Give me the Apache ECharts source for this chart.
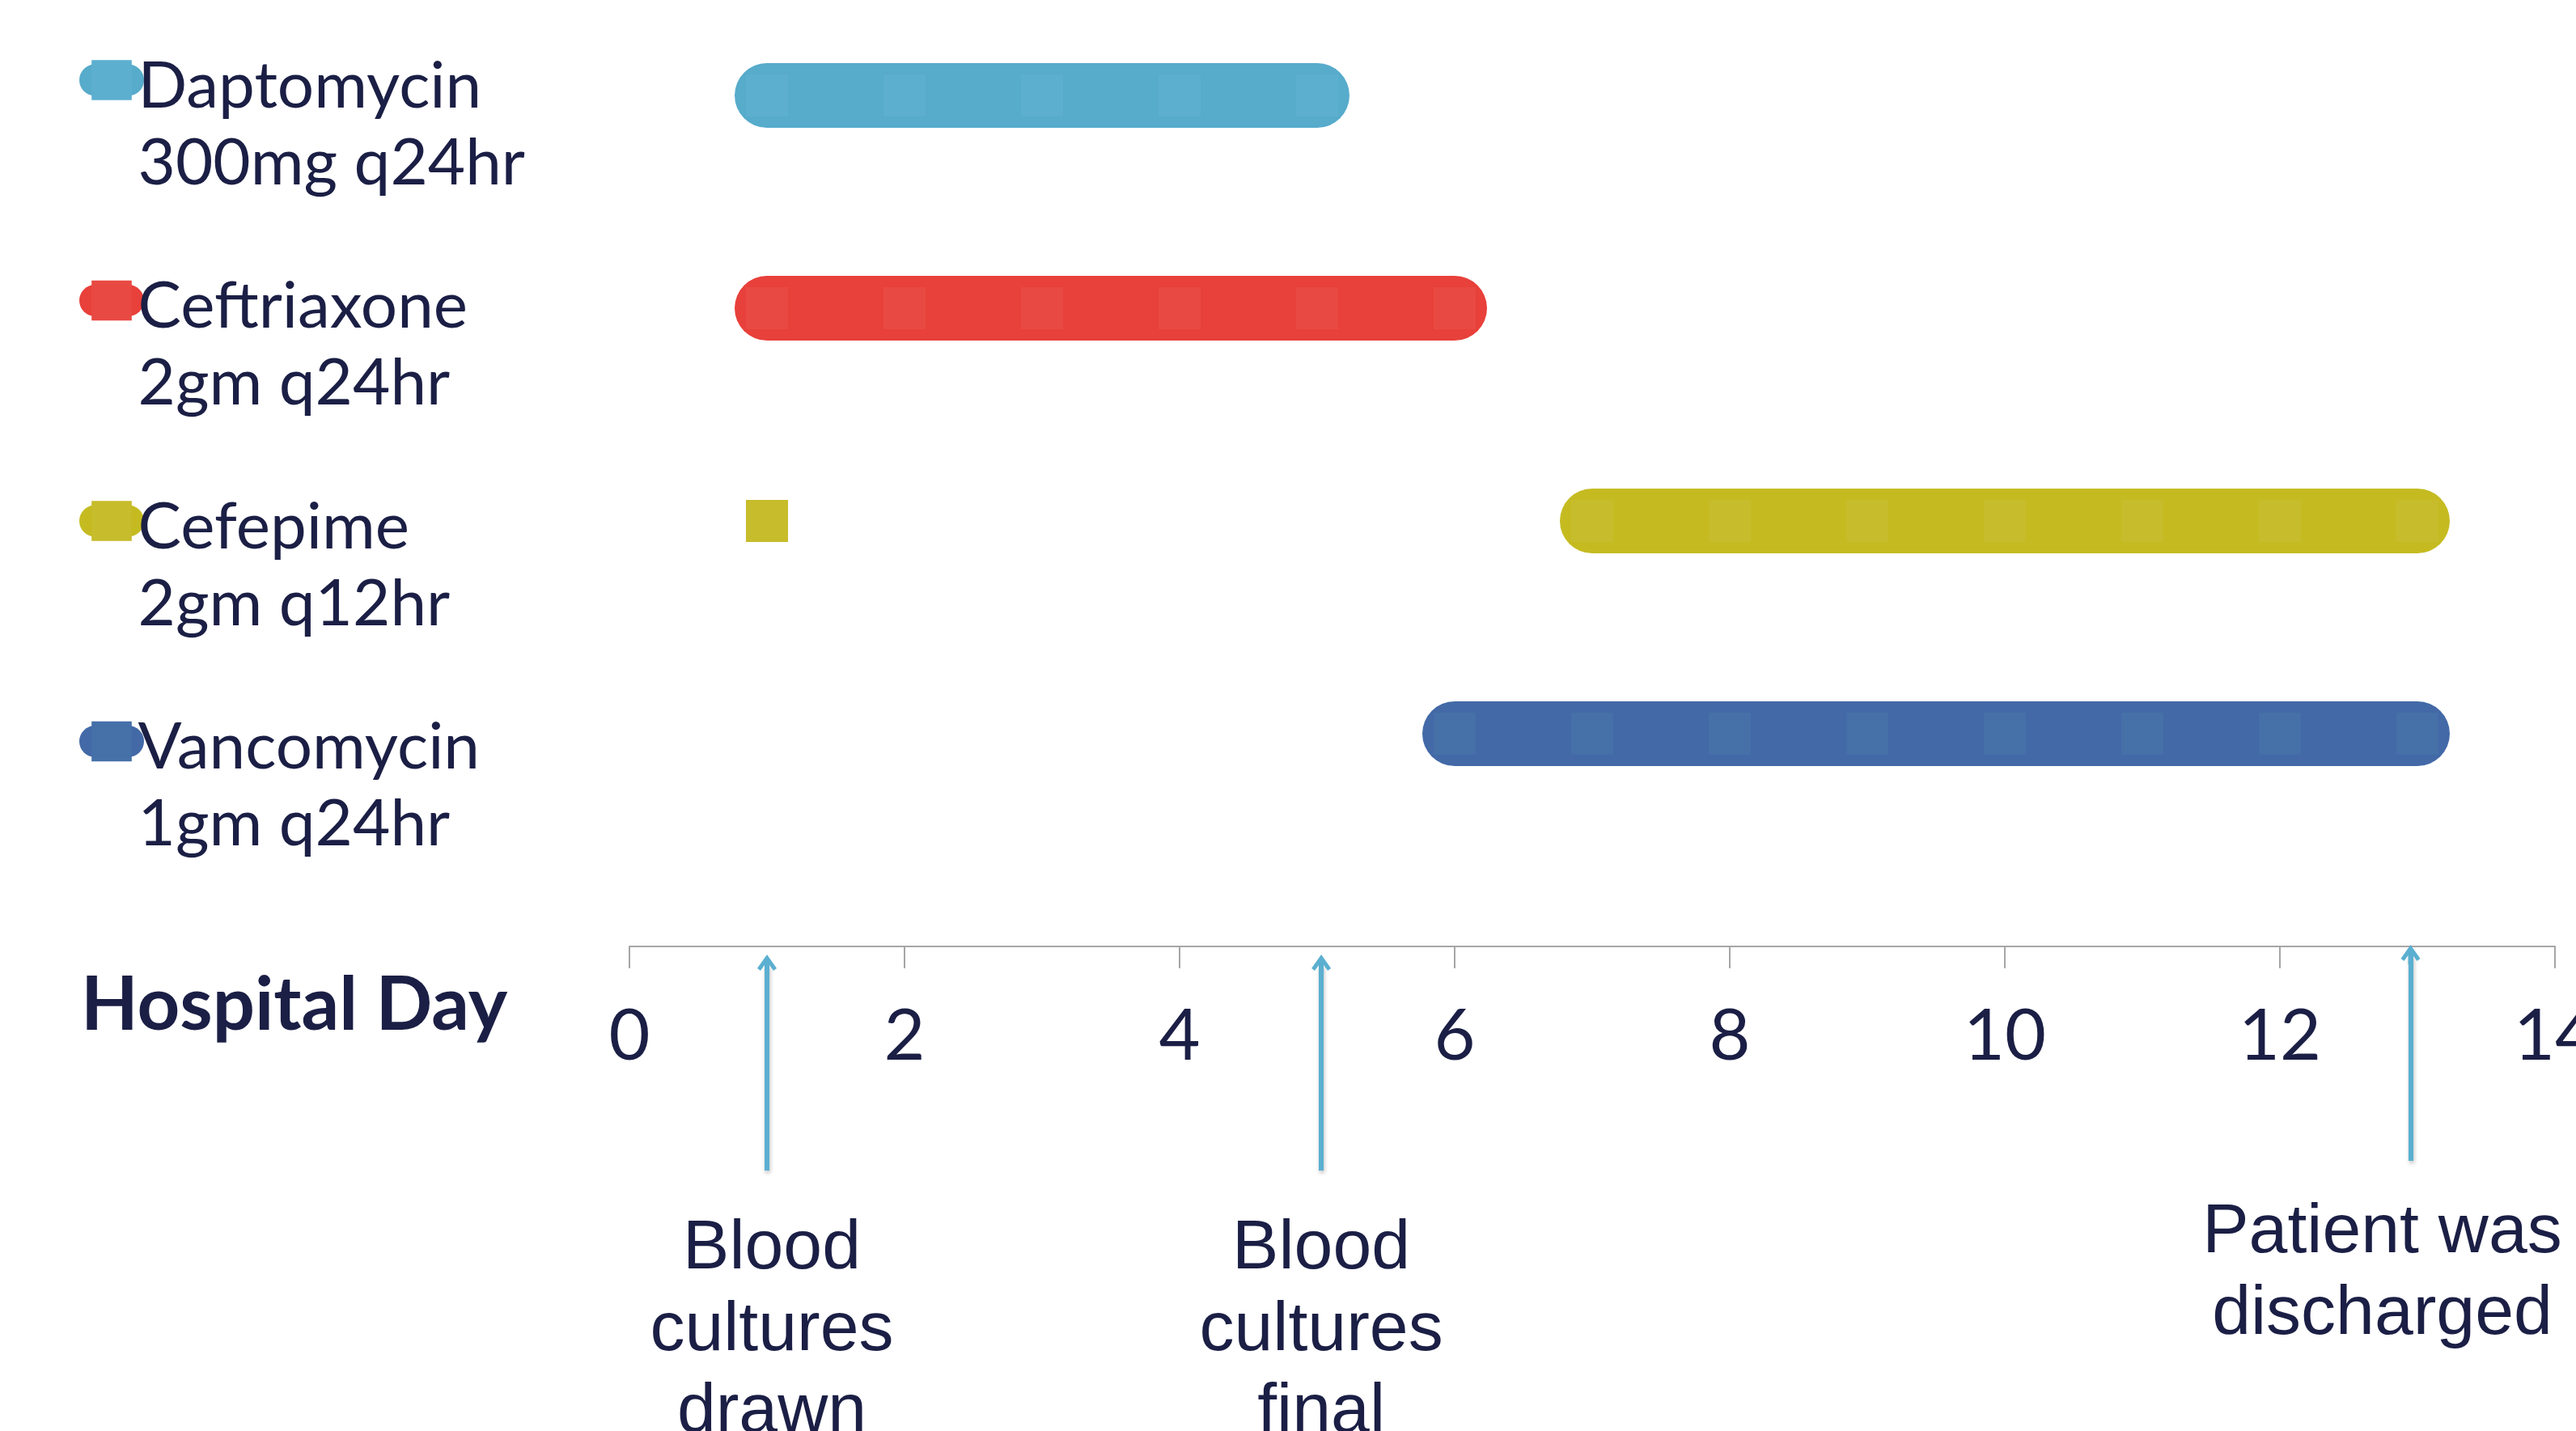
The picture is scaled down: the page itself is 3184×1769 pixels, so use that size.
<!DOCTYPE html>
<html>
<head>
<meta charset="utf-8">
<script src="https://cdn.jsdelivr.net/npm/echarts@6/dist/echarts.min.js"></script>
<style>
html,body{margin:0;padding:0;background:#ffffff;}
#chart{width:3184px;height:1769px;}
</style>
</head>
<body>
<div id="chart"></div>
<script>
// ---------------- data ----------------
const drugs = ['Daptomycin', 'Ceftriaxone', 'Cefepime', 'Vancomycin'];
const doses = ['300mg q24hr', '2gm q24hr', '2gm q12hr', '1gm q24hr'];
const daptomycinDays = [1, 2, 3, 4, 5];
const ceftriaxoneDays = [1, 2, 3, 4, 5, 6];
const cefepimeDays = [1, null, 7, 8, 9, 10, 11, 12, 13];
const vancomycinDays = [6, 7, 8, 9, 10, 11, 12, 13];
const dayMin = 0;
const dayMax = 14;
const dayInterval = 2;
const axisTitle = 'Hospital Day';
const eventDays = [1, 5.03, 12.95];
const eventLabels = ['Blood\ncultures\ndrawn', 'Blood\ncultures\nfinal', 'Patient was\ndischarged'];

// ---------------- styling / layout ----------------
const lineColors = ['#57ABCB', '#E8403A', '#C5BB21', '#4369A7'];
const doseColors = ['#5DAFCF', '#E84A43', '#C7BC2B', '#4670A8'];
const textColor = '#1B1F45';
const arrowColor = '#5BAFD0';
// arrow extents inside the annotation band (0 = bottom, 1 = top)
const arrowFrom = [0, 0, 0.045];
const arrowTo = [0.955, 0.955, 1];
const labelDistance = [47, 47, 39];
const labelPadding = [[0, 0, 0, 12], [0, 0, 0, 0], [0, 70, 0, 0]];

const allDays = [daptomycinDays, ceftriaxoneDays, cefepimeDays, vancomycinDays];

const arrowPath = 'path://M12,0 L24,17 L20,20 L15,13 L15,24 L9,24 L9,13 L4,20 L0,17 Z';

const drugSeries = drugs.map((name, i) => ({
  name: name,
  type: 'line',
  xAxisIndex: 0,
  yAxisIndex: 0,
  clip: false,
  connectNulls: false,
  symbol: 'rect',
  symbolSize: 52,
  showAllSymbol: true,
  lineStyle: { color: lineColors[i], width: 80, cap: 'round', join: 'round' },
  itemStyle: { color: doseColors[i], borderWidth: 0 },
  emphasis: { disabled: true },
  data: allDays[i].map(d => (d === null ? ['-', name] : [d, name]))
}));

const annotationSeries = {
  name: 'events',
  type: 'line',
  xAxisIndex: 1,
  yAxisIndex: 1,
  data: [],
  markLine: {
    silent: true,
    animation: false,
    symbol: ['none', arrowPath],
    symbolSize: [24, 24],
    lineStyle: {
      color: arrowColor, width: 6, type: 'solid',
      shadowBlur: 5, shadowColor: 'rgba(0,0,0,0.25)', shadowOffsetX: 1, shadowOffsetY: 3
    },
    emphasis: { disabled: true },
    data: eventDays.map((d, i) => ([
      {
        coord: [d, arrowFrom[i]],
        label: {
          show: true,
          position: 'start',
          distance: labelDistance[i],
          formatter: eventLabels[i],
          color: textColor,
          fontFamily: 'Liberation Sans, Arial, sans-serif',
          fontSize: 86,
          lineHeight: 101,
          align: 'center',
          padding: labelPadding[i]
        }
      },
      { coord: [d, arrowTo[i]] }
    ]))
  }
};

const chart = echarts.init(document.getElementById('chart'), null, { renderer: 'canvas' });
chart.setOption({
  animation: false,
  backgroundColor: '#ffffff',
  title: {
    text: axisTitle,
    left: 100,
    top: 1197,
    padding: 0,
    textStyle: { color: textColor, fontFamily: 'Lato', fontWeight: 'bold', fontSize: 92, lineHeight: 92 }
  },
  legend: {
    orient: 'vertical',
    left: 98,
    top: -51.5,
    padding: 0,
    itemGap: -21,
    itemWidth: 41,
    itemHeight: 62,
    selectedMode: false,
    data: drugs,
    formatter: name => '{gap| }\n{t|' + name + '}\n{t|' + doses[drugs.indexOf(name)] + '}',
    lineStyle: { width: 39, cap: 'round' },
    textStyle: {
      color: textColor, fontFamily: 'Lato', fontSize: 80,
      padding: [0, 0, 0, 7],
      rich: {
        gap: { fontSize: 10, lineHeight: 111, height: 111 },
        t: { color: textColor, fontFamily: 'Lato', fontSize: 80, lineHeight: 95 }
      }
    }
  },
  grid: [
    { left: 778, right: 26, top: 118, bottom: 599, outerBoundsMode: 'none', containLabel: false },
    { left: 778, right: 26, top: 1180, bottom: 322, outerBoundsMode: 'none', containLabel: false }
  ],
  xAxis: [
    {
      type: 'value', gridIndex: 0, min: dayMin, max: dayMax, interval: dayInterval,
      position: 'bottom',
      axisLine: { show: true, onZero: false, lineStyle: { color: '#A6A6A6', width: 2 } },
      axisTick: { show: true, inside: false, length: 27, lineStyle: { color: '#A6A6A6', width: 2 } },
      splitLine: { show: false },
      axisLabel: {
        show: true, margin: 68, color: textColor, fontFamily: 'Lato', fontSize: 88, lineHeight: 88,
        showMinLabel: true, showMaxLabel: true, hideOverlap: false
      }
    },
    {
      type: 'value', gridIndex: 1, min: dayMin, max: dayMax, show: false
    }
  ],
  yAxis: [
    {
      type: 'category', gridIndex: 0, data: drugs.concat(['']), inverse: true, boundaryGap: false,
      axisLine: { show: false }, axisTick: { show: false }, axisLabel: { show: false }, splitLine: { show: false }
    },
    {
      type: 'value', gridIndex: 1, min: 0, max: 1, show: false
    }
  ],
  series: drugSeries.concat([annotationSeries])
});
</script>
</body>
</html>
